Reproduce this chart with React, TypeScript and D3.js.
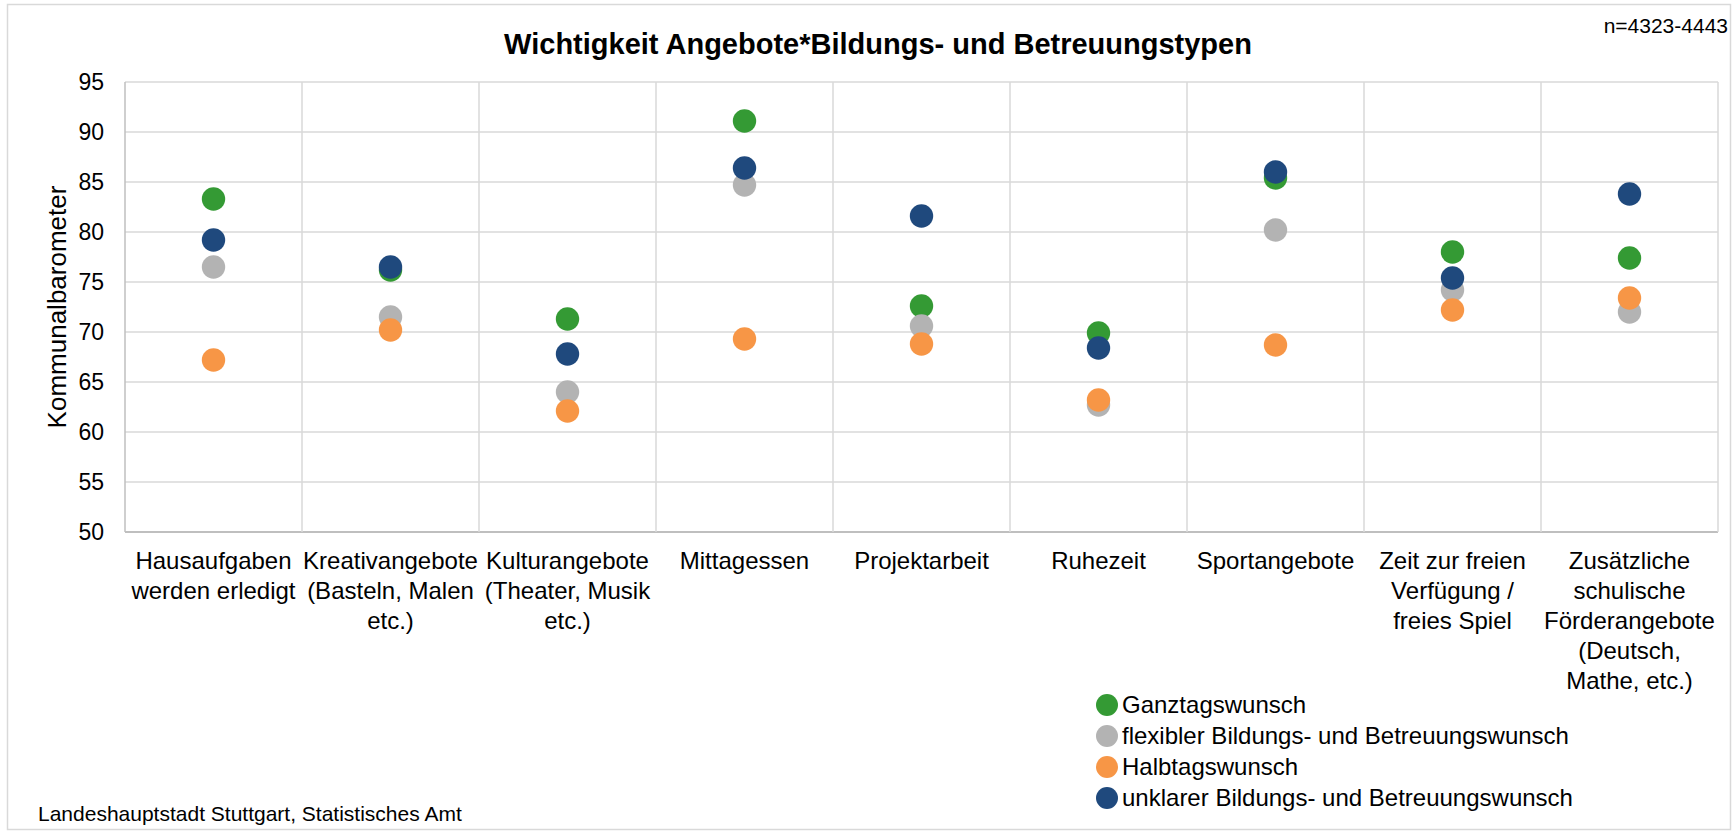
import { useEffect, useRef } from 'react';
import * as d3 from 'd3';

const categories = [
  'Hausaufgaben werden erledigt',
  'Kreativangebote (Basteln, Malen etc.)',
  'Kulturangebote (Theater, Musik etc.)',
  'Mittagessen',
  'Projektarbeit',
  'Ruhezeit',
  'Sportangebote',
  'Zeit zur freien Verfügung / freies Spiel',
  'Zusätzliche schulische Förderangebote (Deutsch, Mathe, etc.)',
];

// wrapped tick labels as they appear under the axis
const categoryLines = [
  ['Hausaufgaben', 'werden erledigt'],
  ['Kreativangebote', '(Basteln, Malen', 'etc.)'],
  ['Kulturangebote', '(Theater, Musik', 'etc.)'],
  ['Mittagessen'],
  ['Projektarbeit'],
  ['Ruhezeit'],
  ['Sportangebote'],
  ['Zeit zur freien', 'Verfügung /', 'freies Spiel'],
  ['Zusätzliche', 'schulische', 'Förderangebote', '(Deutsch,', 'Mathe, etc.)'],
];

const seriesNames = [
  'Ganztagswunsch',
  'flexibler Bildungs- und Betreuungswunsch',
  'Halbtagswunsch',
  'unklarer Bildungs- und Betreuungswunsch',
];
const seriesColors = ['#349a34', '#b3b3b3', '#f79646', '#1f497d'];

const ganztag = [83.3, 76.2, 71.3, 91.1, 72.6, 69.9, 85.4, 78.0, 77.4];
const flexibel = [76.5, 71.5, 64.0, 84.7, 70.6, 62.7, 80.2, 74.2, 72.0];
const halbtag = [67.2, 70.2, 62.1, 69.3, 68.8, 63.2, 68.7, 72.2, 73.4];
const unklar = [79.2, 76.5, 67.8, 86.4, 81.6, 68.4, 86.0, 75.4, 83.8];
const seriesValues = [ganztag, flexibel, halbtag, unklar];

const yTicks = [50, 55, 60, 65, 70, 75, 80, 85, 90, 95];

const W = 1735;
const H = 832;
const FONT = "'Liberation Sans', Arial, sans-serif";

export default function App() {
  const svgRef = useRef<SVGSVGElement>(null);

  useEffect(() => {
    if (!svgRef.current) return;
    const svg = d3.select(svgRef.current);
    svg.selectAll('*').remove();

    const plot = { left: 125, right: 1718, top: 82, bottom: 532 };

    const xScale = d3.scaleBand<string>()
      .domain(categories)
      .range([plot.left, plot.right]);

    const yScale = d3.scaleLinear()
      .domain([50, 95])
      .range([plot.bottom, plot.top]);

    // chart frame
    svg.append('rect')
      .attr('x', 7.5).attr('y', 4.5)
      .attr('width', W - 12).attr('height', H - 7)
      .attr('fill', '#fff')
      .attr('stroke', '#d9d9d9')
      .attr('stroke-width', 1.5);

    // horizontal gridlines
    svg.append('g')
      .selectAll('line')
      .data(yTicks)
      .join('line')
      .attr('x1', plot.left).attr('x2', plot.right)
      .attr('y1', d => yScale(d)).attr('y2', d => yScale(d))
      .attr('stroke', d => (d === 50 ? '#bfbfbf' : '#d9d9d9'))
      .attr('stroke-width', d => (d === 50 ? 2 : 1.5));

    // vertical gridlines at category borders
    const borders = categories.map(c => xScale(c) as number).concat([plot.right]);
    svg.append('g')
      .selectAll('line')
      .data(borders)
      .join('line')
      .attr('x1', d => d).attr('x2', d => d)
      .attr('y1', plot.top).attr('y2', plot.bottom)
      .attr('stroke', (d, i) => (i === 0 ? '#bfbfbf' : '#d9d9d9'))
      .attr('stroke-width', 1.5);

    // y tick labels
    svg.append('g')
      .selectAll('text')
      .data(yTicks)
      .join('text')
      .attr('x', 104)
      .attr('y', d => yScale(d))
      .attr('dy', '0.35em')
      .attr('text-anchor', 'end')
      .style('font-family', FONT)
      .style('font-size', '23px')
      .style('fill', '#000')
      .text(d => d);

    // y axis title
    svg.append('text')
      .attr('transform', `translate(66,${(plot.top + plot.bottom) / 2}) rotate(-90)`)
      .attr('text-anchor', 'middle')
      .style('font-family', FONT)
      .style('font-size', '26px')
      .style('fill', '#000')
      .text('Kommunalbarometer');

    // category labels
    const bw = xScale.bandwidth();
    const catG = svg.append('g')
      .selectAll('text')
      .data(categories)
      .join('text')
      .attr('x', d => (xScale(d) as number) + bw / 2)
      .attr('y', 569)
      .attr('text-anchor', 'middle')
      .style('font-family', FONT)
      .style('font-size', '24px')
      .style('fill', '#000');
    catG.selectAll('tspan')
      .data((d, i) => categoryLines[i].map(line => ({ line, x: (xScale(d) as number) + bw / 2 })))
      .join('tspan')
      .attr('x', d => d.x)
      .attr('dy', (d, i) => (i === 0 ? 0 : 29.9))
      .text(d => d.line);

    // dots
    seriesValues.forEach((values, s) => {
      svg.append('g')
        .selectAll('circle')
        .data(values)
        .join('circle')
        .attr('cx', (d, i) => (xScale(categories[i]) as number) + bw / 2)
        .attr('cy', d => yScale(d))
        .attr('r', 11.7)
        .attr('fill', seriesColors[s]);
    });

    // title
    svg.append('text')
      .attr('x', 878)
      .attr('y', 54)
      .attr('text-anchor', 'middle')
      .style('font-family', FONT)
      .style('font-size', '29px')
      .style('font-weight', 'bold')
      .style('fill', '#000')
      .text('Wichtigkeit Angebote*Bildungs- und Betreuungstypen');

    svg.append('text')
      .attr('x', 1728)
      .attr('y', 33)
      .attr('text-anchor', 'end')
      .style('font-family', FONT)
      .style('font-size', '21px')
      .style('fill', '#000')
      .text('n=4323-4443');

    // legend
    const legend = svg.append('g')
      .selectAll('g')
      .data(seriesNames)
      .join('g')
      .attr('transform', (d, i) => `translate(1107,${705 + i * 31})`);
    legend.append('circle')
      .attr('r', 11)
      .attr('fill', (d, i) => seriesColors[i]);
    legend.append('text')
      .attr('x', 15)
      .attr('dy', '0.35em')
      .style('font-family', FONT)
      .style('font-size', '24px')
      .style('fill', '#000')
      .text(d => d);

    // source note
    svg.append('text')
      .attr('x', 38)
      .attr('y', 821)
      .style('font-family', FONT)
      .style('font-size', '21px')
      .style('fill', '#000')
      .text('Landeshauptstadt Stuttgart, Statistisches Amt');
  }, []);

  return (
    <svg
      ref={svgRef}
      width={W}
      height={H}
      style={{ position: 'absolute', left: 0, top: 0, background: '#fff' }}
    />
  );
}
